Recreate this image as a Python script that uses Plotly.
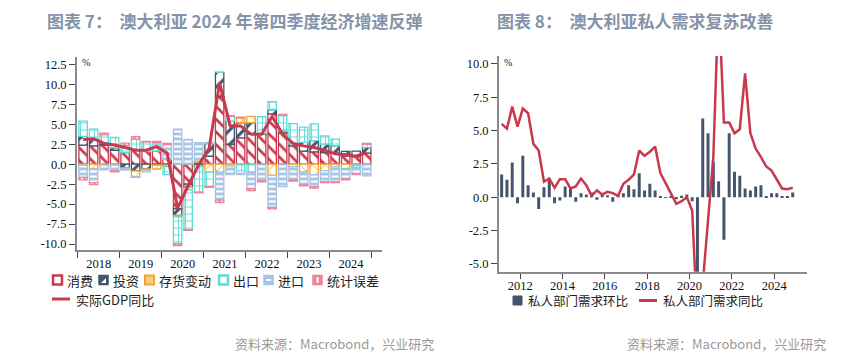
import plotly.graph_objects as go

# ---------------- data: left chart (contributions to GDP yoy, ppt) ----------------
quarters_left = [f"{y}Q{q}" for y in range(2018, 2025) for q in range(1, 5)]
year_labels_left = ["2018", "2019", "2020", "2021", "2022", "2023", "2024"]

consumption = [2.4, 2.3, 2.4, 1.75, 1.45, 1.75, 1.6, 1.65, 0.6, -5.6, -2.5, -0.3,
               1.0, 8.5, 2.5, 3.3, 3.75, 3.75, 6.3, 3.9, 2.3, 1.65, 1.55, 1.45,
               1.4, 1.05, 0.95, 1.4]
investment = [1.1, 0.8, 0.3, 0.3, -0.45, -0.85, -0.6, -0.1, -0.1, -0.8, -0.4, 0.2,
              1.6, 3.0, 2.9, 1.9, 1.45, 0.1, 0.5, 0.2, 0.3, 1.1, 1.4, 1.05,
              0.9, 0.55, 0.7, 0.7]
inventory = [-0.1, -0.6, -0.1, -0.1, -0.1, -0.7, -0.15, -0.5, -0.2, -0.2, -0.3, 0.2,
             -1.0, -1.0, -0.2, 0.6, 0.8, 0.0, -1.4, 0.15, -0.3, -1.0, -1.3, -0.8,
             -0.3, -0.55, -0.1, -0.05]
exports = [1.9, 1.3, 1.0, 1.3, 0.9, 1.4, 1.2, 0.6, -1.0, -3.4, -5.0, -3.2,
           -1.8, 0.0, 0.6, -0.8, -1.0, 2.1, 1.05, 1.9, 2.5, 1.9, 2.1, 1.05,
           0.85, -0.1, -0.3, 0.4]
imports = [-1.55, -1.7, -0.6, -0.75, -0.2, -0.1, -0.2, 0.5, 1.9, 4.4, 3.1, 2.3,
           0.15, -3.5, -1.1, -0.5, -2.1, -2.1, -4.0, -2.8, -1.7, -1.6, -1.5, -1.4,
           -1.9, -1.2, -0.8, -1.4]
stat_disc = [-0.3, -0.25, 0.2, -0.1, 0.3, 0.3, 0.05, 0.1, 0.1, -0.2, -0.1, -0.1,
             -0.1, -0.3, 0.1, 0.1, -0.2, -0.1, -0.2, 0.1, -0.1, -0.1, -0.2, -0.1,
             -0.1, -0.1, -0.1, 0.1]
gdp_yoy = [3.1, 3.2, 2.6, 2.4, 2.1, 1.75, 1.75, 2.2, 1.4, -5.5, -2.7, -0.1,
           2.0, 10.2, 4.8, 4.8, 3.75, 3.75, 6.0, 3.75, 2.6, 2.3, 2.1, 1.75,
           1.3, 1.2, 1.0, 1.5]

left_yticks = [-10.0, -7.5, -5.0, -2.5, 0.0, 2.5, 5.0, 7.5, 10.0, 12.5]

# ---------------- data: right chart (private demand, %) ----------------
quarters_right = [f"{y}Q{q}" for y in range(2011, 2025) for q in range(1, 5)]
private_qoq = [1.7, 1.3, 2.6, -0.45, 3.1, 0.9, 0.35, -0.9, 0.75, 1.3, -0.45, -0.25,
               0.8, 0.65, -0.35, 0.3, 0.2, 0.35, -0.2, 0.25, 0.15, -0.35, 0.2, 0.3,
               0.9, 0.6, 1.8, 0.5, 1.0, 0.5, 0.05, -0.05, 0.05, -0.15, 0.1, 0.2,
               -0.3, -7.5, 5.9, 4.8, 2.65, 1.2, -3.2, 4.8, 1.9, 1.6, 0.65, 0.5,
               0.8, 0.9, 0.05, 0.3, 0.3, 0.05, 0.05, 0.35]
private_yoy = [5.5, 5.15, 6.8, 5.3, 6.65, 6.3, 4.0, 3.5, 1.15, 1.4, 0.7, 1.35,
               1.35, 0.65, 0.8, 1.4, 0.9, 0.1, 0.5, 0.2, 0.4, 0.3, 0.1, 1.0,
               1.3, 1.7, 3.5, 3.1, 3.4, 3.8, 1.8, 1.0, 0.3, -0.5, -0.3, 0.0,
               -1.0, -9.5, -6.5, -1.5, 3.0, 15.0, 5.6, 5.6, 4.8, 5.1, 9.3, 4.8,
               3.65, 3.0, 2.3, 2.0, 1.3, 0.65, 0.6, 0.7]
right_xticks = [2012, 2014, 2016, 2018, 2020, 2022, 2024]
right_yticks = [-5.0, -2.5, 0.0, 2.5, 5.0, 7.5, 10.0]


def qpos(label):
    y, q = label.split("Q")
    return int(y) + (int(q) - 0.5) / 4


xl = [qpos(q) for q in quarters_left]
xr = [qpos(q) for q in quarters_right]

# ---------------- styling ----------------
W, H = 866, 356
RED = "#C9384D"
NAVY = "#44546C"
ORANGE = "#F5A52C"
TURQ = "#5ADCD4"
LBLUE = "#A4C2E4"
PINK = "#F2819A"
AXIS = "#8A8A8A"
TICKC = "#444444"
SERIF = "Times New Roman, Liberation Serif, serif"
CJK = "Noto Sans CJK SC"


def px(x):
    return x / W


def py(y):
    return 1 - y / H


def fmt(v):
    return f"{v:.1f}"


fig = go.Figure()

bar_specs = [
    ("消费", consumption, RED, "\\", 9, 0.3),
    ("投资", investment, NAVY, "/", 10, 0.3),
    ("存货变动", inventory, ORANGE, "x", 9, 0.18),
    ("出口", exports, TURQ, "+", 7, 0.25),
    ("进口", imports, LBLUE, "-", 5, 0.55),
    ("统计误差", stat_disc, PINK, "|", 5, 0.5),
]
for name, vals, col, shp, sz, sol in bar_specs:
    fig.add_trace(go.Bar(
        name=name, x=xl, y=vals, width=0.2, xaxis="x", yaxis="y",
        marker=dict(color=col, line=dict(color=col, width=1.3),
                    pattern=dict(shape=shp, fillmode="replace", bgcolor="white",
                                 size=sz, solidity=sol)),
        showlegend=False,
    ))

fig.add_trace(go.Scatter(name="实际GDP同比", x=xl, y=gdp_yoy, mode="lines",
                         line=dict(color=RED, width=3), xaxis="x", yaxis="y",
                         showlegend=False))

fig.add_trace(go.Bar(name="私人部门需求环比", x=xr, y=private_qoq, width=0.14,
                     marker=dict(color=NAVY, line=dict(width=0)),
                     xaxis="x2", yaxis="y2", showlegend=False))
fig.add_trace(go.Scatter(name="私人部门需求同比", x=xr, y=private_yoy, mode="lines",
                         line=dict(color=RED, width=2.5), xaxis="x2", yaxis="y2",
                         showlegend=False))

tickfont = dict(family=SERIF, size=12.5, color="#111111")

fig.update_layout(
    width=W, height=H, margin=dict(l=0, r=0, t=0, b=0),
    paper_bgcolor="white", plot_bgcolor="white",
    barmode="relative",
    showlegend=False,
    xaxis=dict(domain=[px(77), px(382)], range=[2017.98, 2025.24], anchor="y",
               tickmode="array", tickvals=[int(y) + 0.5 for y in year_labels_left],
               ticktext=year_labels_left, ticks="outside", ticklen=4,
               tickcolor="rgba(0,0,0,0)", tickfont=tickfont, ticklabelstandoff=-3,
               showline=True, linecolor=AXIS, linewidth=2, showgrid=False, zeroline=False,
               minor=dict(tickmode="array",
                          tickvals=[int(y) for y in year_labels_left] + [int(year_labels_left[-1]) + 1],
                          ticks="outside", ticklen=6, tickcolor=TICKC, tickwidth=1.2,
                          showgrid=False)),
    yaxis=dict(domain=[py(250), py(56.5)], range=[-10.75, 13.5], anchor="x",
               tickmode="array", tickvals=left_yticks, ticktext=[fmt(v) for v in left_yticks],
               ticks="outside", ticklen=6, tickcolor=TICKC, tickwidth=1.2, tickfont=tickfont,
               showline=True, linecolor=AXIS, linewidth=2, showgrid=False, zeroline=False),
    xaxis2=dict(domain=[px(499), px(807)], range=[2011.0, 2025.55], anchor="y2",
                tickmode="array", tickvals=right_xticks, ticktext=[str(v) for v in right_xticks],
                ticks="outside", ticklen=5, tickcolor=TICKC, tickwidth=1.2, tickfont=tickfont,
                ticklabelstandoff=-4,
                showline=True, linecolor=AXIS, linewidth=2, showgrid=False, zeroline=False),
    yaxis2=dict(domain=[py(271.7), py(56)], range=[-5.6, 10.6], anchor="x2",
                tickmode="array", tickvals=right_yticks, ticktext=[fmt(v) for v in right_yticks],
                ticks="outside", ticklen=6, tickcolor=TICKC, tickwidth=1.2, tickfont=tickfont,
                showline=True, linecolor=AXIS, linewidth=2, showgrid=False, zeroline=False),
)

ann = []
shapes = []


def text(x, y, s, size=13, color="#222222", family=CJK, xanchor="left"):
    ann.append(dict(x=px(x), y=py(y), xref="paper", yref="paper", text=s, showarrow=False,
                    xanchor=xanchor, yanchor="middle", font=dict(family=family, size=size, color=color)))


TITLE_C = "#8493A9"
text(234, 20, "<b>图表 7：  澳大利亚 2024 年第四季度经济增速反弹</b>", size=17, color=TITLE_C, xanchor="center")
text(635, 20, "<b>图表 8：  澳大利亚私人需求复苏改善</b>", size=17, color=TITLE_C, xanchor="center")
text(436, 343, "资料来源：Macrobond，兴业研究", size=13, color="#9A9A9A", xanchor="right")
text(828, 343, "资料来源：Macrobond，兴业研究", size=13, color="#9A9A9A", xanchor="right")
text(80, 63, "%", size=10, color="#222222", family=SERIF)
text(502, 63, "%", size=10, color="#222222", family=SERIF)


def rect(x0, y0, x1, y1, line, fill, lw=2):
    shapes.append(dict(type="rect", xref="paper", yref="paper", x0=px(x0), x1=px(x1),
                       y0=py(y1), y1=py(y0), line=dict(color=line, width=lw), fillcolor=fill))


def seg(x0, y0, x1, y1, color, lw):
    shapes.append(dict(type="line", xref="paper", yref="paper", x0=px(x0), x1=px(x1),
                       y0=py(y0), y1=py(y1), line=dict(color=color, width=lw)))


# left legend, row 1
ly = 280
legend_items = [(52, "消费"), (98, "投资"), (144, "存货变动"), (218, "出口"), (263, "进口"), (312, "统计误差")]
rect(53, ly - 4.5, 62, ly + 4.5, RED, "white", 2.5)
rect(99, ly - 4.5, 108, ly + 4.5, NAVY, NAVY, 1.5)
shapes.append(dict(type="path", xref="paper", yref="paper",
                   path=f"M {px(101)},{py(ly + 3)} L {px(106)},{py(ly + 3)} L {px(106)},{py(ly - 2)} Z",
                   fillcolor="white", line=dict(width=0)))
rect(145, ly - 4.5, 154, ly + 4.5, ORANGE, "#F9CB86", 2)
rect(219, ly - 4.5, 228, ly + 4.5, TURQ, "white", 2.5)
rect(264, ly - 4.5, 273, ly + 4.5, LBLUE, LBLUE, 1.5)
seg(266, ly, 271, ly, "white", 2)
rect(313, ly - 4.5, 322, ly + 4.5, PINK, PINK, 1.5)
seg(317.5, ly - 3, 317.5, ly + 3, "white", 2)
for x0, s in legend_items:
    text(x0 + 13, ly, s, size=13)
# left legend, row 2
seg(52, 299, 70, 299, RED, 3)
text(74, 299, "实际GDP同比", size=13)

# right legend
ry = 300.5
rect(513, ry - 4.5, 522, ry + 4.5, NAVY, NAVY, 1)
text(526, ry, "私人部门需求环比", size=12.5)
seg(639, ry, 657, ry, RED, 3)
text(661, ry, "私人部门需求同比", size=12.5)

fig.update_layout(annotations=ann, shapes=shapes)

fig.write_html("out.html", config={"displayModeBar": False},
               post_script="document.body.style.margin='0px';document.body.style.padding='0px';")
